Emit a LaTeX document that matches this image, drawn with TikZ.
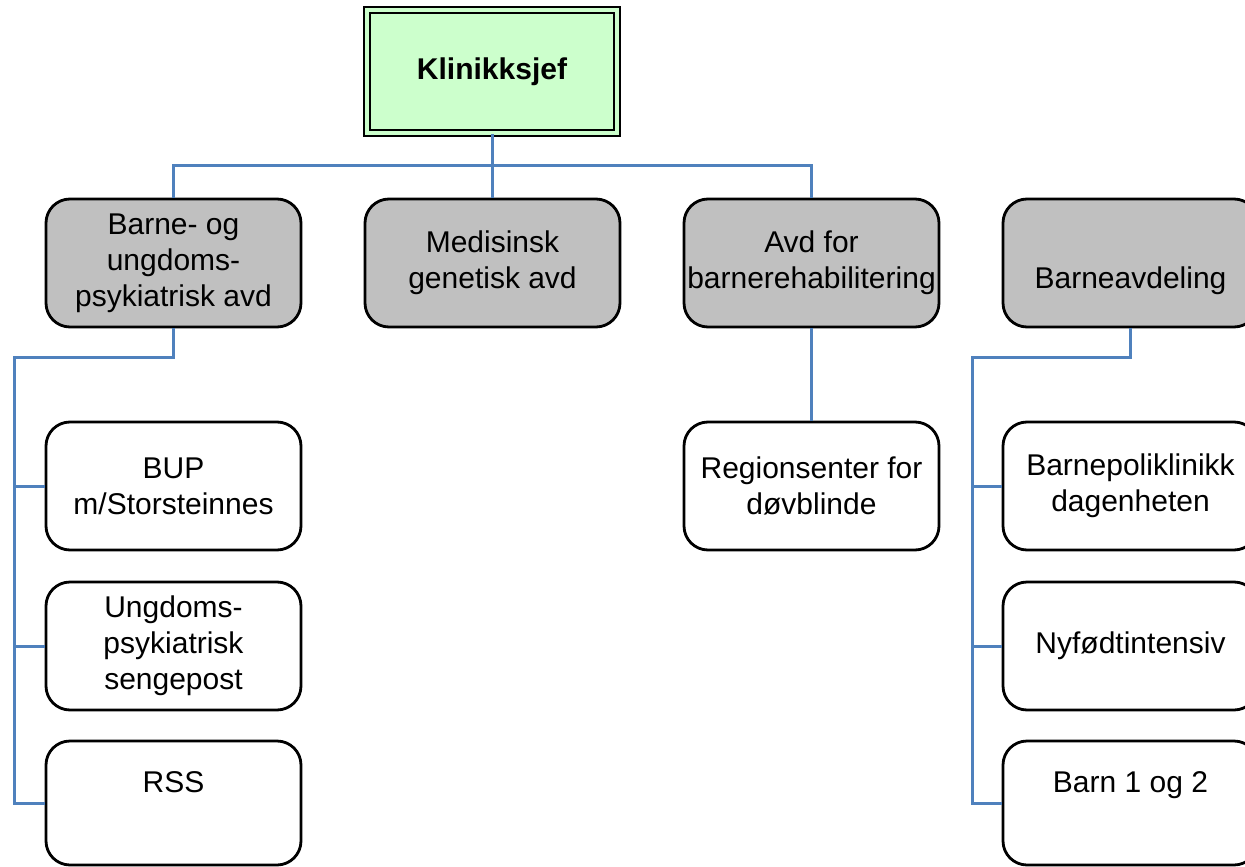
\documentclass[tikz,border=0pt]{standalone}
\usepackage{fontspec}
\setmainfont{Liberation Sans}
\definecolor{linkblue}{RGB}{79,129,189}
\definecolor{deptgray}{RGB}{192,192,192}
\definecolor{bossgreen}{RGB}{204,255,204}
\begin{document}
\begin{tikzpicture}[x=1pt,y=-1pt,
  conn/.style={draw=linkblue, line width=3pt},
  dept/.style={draw=black, line width=2.8pt, fill=deptgray, rounded corners=24pt,
    minimum width=255pt, minimum height=128pt, inner sep=0pt, align=center,
    font=\fontsize{30}{36}\selectfont},
  unit/.style={dept, fill=white},
  boss/.style={draw=black, line width=2.5pt, double=bossgreen, double distance=3.5pt,
    fill=bossgreen, minimum width=250pt, minimum height=123pt, inner sep=0pt,
    font=\fontsize{30}{36}\selectfont\bfseries}]
\useasboundingbox (0,0) rectangle (1245,867);
\clip (0,0) rectangle (1245,867);
% boss
\node[boss] (kj) at (492,71.5) {\raisebox{-2pt}{Klinikksjef}};
% departments
\node[dept] (b1) at (173.5,263) {Barne- og\\ungdoms-\\psykiatrisk avd};
\node[dept] (b2) at (492.5,263) {Medisinsk\\genetisk avd};
\node[dept] (b3) at (811.5,263) {Avd for\\barnerehabilitering};
\node[dept] (b4) at (1130.5,263) {\strut\\Barneavdeling\strut};
% units left
\node[unit] (l1) at (173.5,486) {BUP\\m/Storsteinnes};
\node[unit] (l2) at (173.5,646) {Ungdoms-\\psykiatrisk\\sengepost};
\node[unit, minimum height=124pt] (l3) at (173.5,803) {\strut RSS\\\strut};
% unit middle
\node[unit] (m1) at (811.5,486) {Regionsenter for\\døvblinde};
% units right
\node[unit] (r1) at (1130.5,486) {Barnepoliklinikk\\dagenheten};
\node[unit] (r2) at (1130.5,646) {Nyfødtintensiv};
\node[unit, minimum height=124pt] (r3) at (1130.5,803) {\strut Barn 1 og 2\\\strut};
% connectors top
\draw[conn] (kj.south) -- (kj.south |- b2.north);
\draw[conn] (b1.north) -- ++(0,-32) -| (b3.north);
% left rail
\coordinate (lr) at (14,357);
\draw[conn] (b1.south) |- (lr) -- (lr |- l3.west) -- (l3.west);
\draw[conn] (lr |- l1.west) -- (l1.west);
\draw[conn] (lr |- l2.west) -- (l2.west);
% middle
\draw[conn] (b3.south) -- (m1.north);
% right rail
\coordinate (rr) at (972,357);
\draw[conn] (b4.south) |- (rr) -- (rr |- r3.west) -- (r3.west);
\draw[conn] (rr |- r1.west) -- (r1.west);
\draw[conn] (rr |- r2.west) -- (r2.west);
\end{tikzpicture}
\end{document}
